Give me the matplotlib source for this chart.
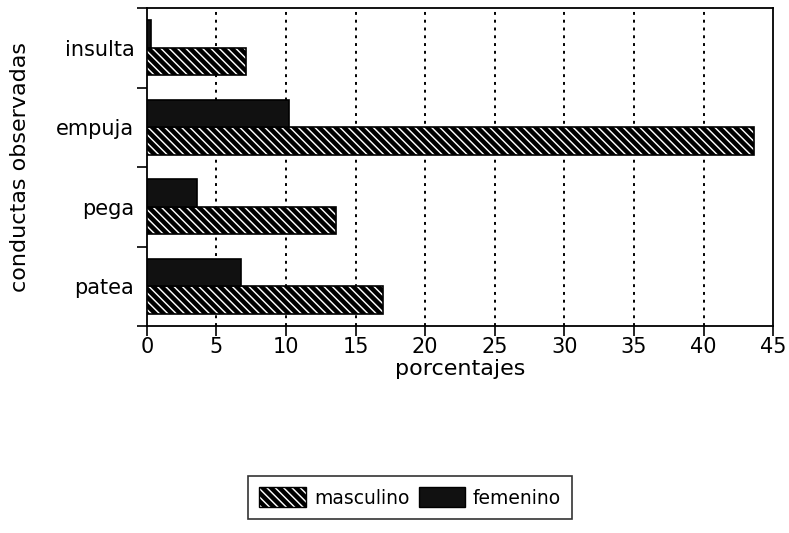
import matplotlib
matplotlib.use("Agg")
import matplotlib.pyplot as plt
import numpy as np
from matplotlib.patches import Patch

categories = ["patea", "pega", "empuja", "insulta"]
masculino = [17.0, 13.6, 43.6, 7.1]
femenino = [6.8, 3.6, 10.2, 0.3]
xticks = [0, 5, 10, 15, 20, 25, 30, 35, 40, 45]

plt.rcParams['font.family'] = ['DejaVu Sans']
plt.rcParams['hatch.linewidth'] = 3.2

fig = plt.figure(figsize=(7.89, 5.33), dpi=100)
ax = fig.add_axes([0.186, 0.388, 0.794, 0.597])

y = np.arange(len(categories))
h = 0.345
hatch = '\\\\\\\\'
ax.barh(y - h/2, masculino, height=h, facecolor='white', edgecolor='black',
        hatch=hatch, linewidth=1.2, zorder=3, label='masculino')
ax.barh(y + h/2, femenino, height=h, facecolor='#111111', edgecolor='black',
        linewidth=1.2, zorder=3, label='femenino')

ax.set_xlim(0, 45)
ax.set_ylim(-0.5, 3.5)
ax.set_xticks(xticks)
ax.set_xticklabels([str(t) for t in xticks], fontsize=15)
ax.set_yticks(y)
ax.set_yticklabels(categories, fontsize=15)
ax.tick_params(axis='y', which='major', length=0, pad=9)
ax.set_yticks([-0.5, 0.5, 1.5, 2.5, 3.5], minor=True)
ax.tick_params(axis='y', which='minor', length=7, width=1.2, direction='out')
ax.tick_params(axis='x', length=7, width=1.2, direction='out', pad=1)

for t in xticks[1:-1]:
    ax.axvline(t, color='black', linestyle=(0, (1.5, 2.5)), linewidth=1.4, zorder=1)

for s in ax.spines.values():
    s.set_linewidth(1.3)

ax.set_xlabel("porcentajes", fontsize=16, labelpad=1)
ax.set_ylabel("conductas observadas", fontsize=16, labelpad=19)

handles = [Patch(facecolor='white', edgecolor='black', hatch=hatch, label='masculino'),
           Patch(facecolor='#111111', edgecolor='black', label='femenino')]
leg = fig.legend(handles=handles, loc='center', bbox_to_anchor=(0.52, 0.067), ncol=2,
                 fontsize=13.5, frameon=True, fancybox=False, edgecolor='black',
                 handlelength=2.5, handleheight=1.3, columnspacing=0.5, handletextpad=0.4,
                 borderpad=0.6)
leg.get_frame().set_linewidth(1.2)

fig.savefig("out.png", dpi=100)
